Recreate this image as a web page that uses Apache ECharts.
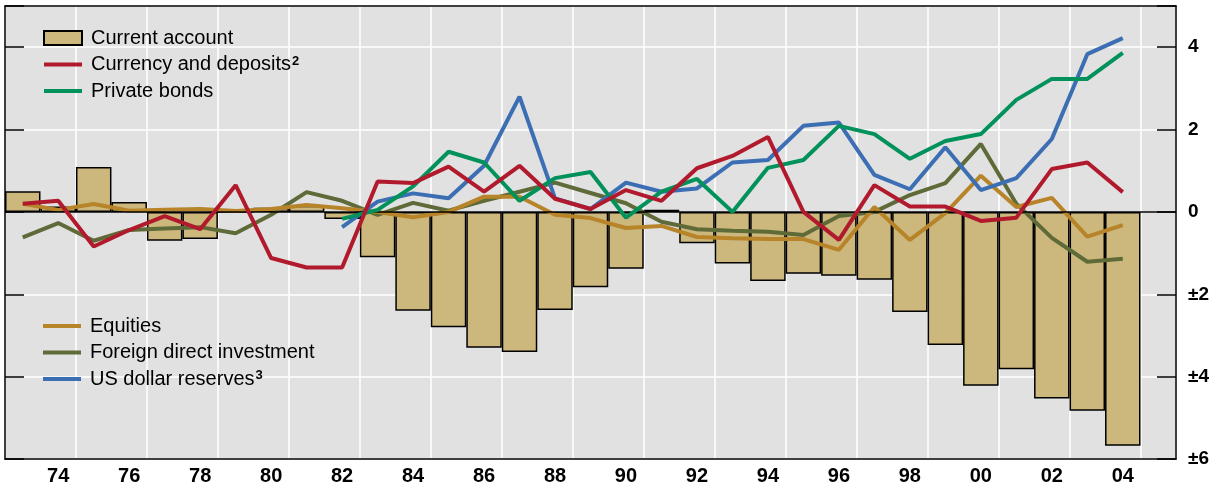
<!DOCTYPE html>
<html>
<head>
<meta charset="utf-8">
<script src="https://cdn.jsdelivr.net/npm/echarts@6/dist/echarts.min.js"></script>
<style>
  html, body { margin: 0; background: #fff; }
  #chart { width: 1216px; height: 489px; }
</style>
</head>
<body>
<div id="chart"></div>
<script>
// years 1973..2005 (2005 left empty, as in the original)
const years = ['73','74','75','76','77','78','79','80','81','82','83','84','85','86','87','88',
  '89','90','91','92','93','94','95','96','97','98','99','00','01','02','03','04','05'];

const currentAccount = [0.5, 0.13, 1.09, 0.24, -0.7, -0.66, 0.0, 0.1, 0.15, -0.17, -1.1, -2.4,
  -2.8, -3.3, -3.4, -2.38, -1.83, -1.38, 0.05, -0.76, -1.25, -1.68, -1.5, -1.55, -1.65, -2.43,
  -3.23, -4.22, -3.82, -4.53, -4.83, -5.68, null];

const currencyDeposits = [0.2, 0.27, -0.84, -0.44, -0.1, -0.42, 0.65, -1.12, -1.35, -1.35, 0.74,
  0.7, 1.1, 0.49, 1.12, 0.32, 0.07, 0.53, 0.27, 1.06, 1.36, 1.82, 0.0, -0.68, 0.65, 0.13, 0.13,
  -0.22, -0.14, 1.04, 1.2, 0.48, null];

const privateBonds = [null, null, null, null, null, null, null, null, null, -0.17, 0.05, 0.62,
  1.46, 1.2, 0.27, 0.82, 0.97, -0.14, 0.49, 0.8, 0.0, 1.07, 1.26, 2.09, 1.89, 1.29, 1.72, 1.89,
  2.72, 3.23, 3.23, 3.86, null];

const equities = [0.2, 0.05, 0.19, 0.03, 0.05, 0.07, 0.02, 0.07, 0.17, 0.09, 0.0, -0.13, 0.0,
  0.37, 0.37, -0.07, -0.15, -0.39, -0.34, -0.61, -0.64, -0.66, -0.66, -0.92, 0.12, -0.68, -0.03,
  0.88, 0.12, 0.34, -0.6, -0.32, null];

const fdi = [-0.62, -0.27, -0.7, -0.44, -0.4, -0.37, -0.52, -0.07, 0.48, 0.27, -0.07, 0.22, 0.03,
  0.27, 0.49, 0.71, 0.46, 0.21, -0.24, -0.42, -0.46, -0.48, -0.56, -0.1, 0.0, 0.41, 0.7, 1.65,
  0.2, -0.63, -1.21, -1.14, null];

const usdReserves = [null, null, null, null, null, null, null, null, null, -0.37, 0.25, 0.45,
  0.33, 1.12, 2.8, 0.33, 0.07, 0.71, 0.49, 0.57, 1.2, 1.26, 2.09, 2.17, 0.9, 0.55, 1.57, 0.53,
  0.82, 1.77, 3.83, 4.22, null];

const FONT = "'Liberation Sans', Arial, sans-serif";
const black = { color: '#000', width: 1.5 };
// flat bar used as legend key for the lines
const LINE_ICON = 'path://M0,0H38V4H0Z';

const chart = echarts.init(document.getElementById('chart'));

const lineSeries = (name, data, color, z) => ({
  name, type: 'line', data, symbol: 'none', z,
  lineStyle: { color, width: 4 },
  itemStyle: { color },
  connectNulls: false
});

const legendBase = {
  orient: 'vertical',
  left: 38,
  itemWidth: 38,
  itemHeight: 14,
  itemGap: 6.5,
  symbolKeepAspect: true,
  // footnote marks drawn as small bold superscripts
  formatter: (name) => name.replace('²', '{sup|2}').replace('³', '{sup|3}'),
  textStyle: {
    fontSize: 20, color: '#000', fontFamily: FONT, lineHeight: 20, padding: [0, 0, 0, 4],
    rich: {
      sup: { fontSize: 13, fontWeight: 'bold', fontFamily: FONT, color: '#000',
             lineHeight: 12, verticalAlign: 'top', padding: [0, 0, 0, 1] }
    }
  }
};

chart.setOption({
  animation: false,
  grid: {
    left: 5, right: 40, top: 6, bottom: 30,
    show: true, backgroundColor: '#e1e1e1', borderWidth: 0
  },
  legend: [
    Object.assign({}, legendBase, {
      top: 23,
      data: [
        { name: 'Current account', icon: 'rect' },
        { name: 'Currency and deposits²', icon: LINE_ICON },
        { name: 'Private bonds', icon: LINE_ICON }
      ]
    }),
    Object.assign({}, legendBase, {
      top: 311,
      data: [
        { name: 'Equities', icon: LINE_ICON },
        { name: 'Foreign direct investment', icon: LINE_ICON },
        { name: 'US dollar reserves³', icon: LINE_ICON }
      ]
    })
  ],
  xAxis: [
    {
      type: 'category', data: years, position: 'bottom',
      axisLine: { onZero: false, lineStyle: black },
      axisTick: { inside: true, length: 30, interval: (i) => i % 2 === 0, lineStyle: black },
      axisLabel: {
        interval: (i) => i % 2 === 1, fontSize: 20, fontWeight: 'bold',
        color: '#000', fontFamily: FONT, margin: 7
      },
      splitLine: { show: true, interval: (i) => i % 2 === 0, lineStyle: { color: '#fff', width: 1.5 } }
    },
    {
      type: 'category', data: years, position: 'bottom',
      axisLine: { show: false },
      axisTick: { inside: true, length: 15, interval: 0, lineStyle: black },
      axisLabel: { show: false },
      splitLine: { show: false }
    },
    {
      type: 'category', data: years, position: 'top', z: 5,
      axisLine: { onZero: false, lineStyle: black },
      axisTick: { show: false },
      axisLabel: { show: false },
      splitLine: { show: false }
    }
  ],
  yAxis: [
    {
      type: 'value', position: 'right', min: -6, max: 5, interval: 2,
      axisLine: { show: true, lineStyle: black },
      axisTick: { show: true, inside: true, length: 19, lineStyle: black },
      axisLabel: {
        fontSize: 19, fontWeight: 'bold', color: '#000', fontFamily: FONT, margin: 12,
        formatter: (v) => (v > 4 ? '' : v < 0 ? '±' + Math.abs(v) : String(v))
      },
      splitLine: { show: true, lineStyle: { color: '#fff', width: 1.5 } }
    },
    {
      type: 'value', position: 'left', min: -6, max: 5, interval: 2, z: 5,
      axisLine: { show: true, lineStyle: black },
      axisTick: { show: true, inside: true, length: 19, lineStyle: black },
      axisLabel: { show: false },
      splitLine: { show: false }
    }
  ],
  series: [
    {
      name: 'Current account', type: 'bar', data: currentAccount,
      barWidth: '100%', barCategoryGap: '0%', z: 1,
      itemStyle: { color: '#ccb77c', borderColor: '#000', borderWidth: 1.5 },
      markLine: {
        silent: true, symbol: 'none', label: { show: false },
        lineStyle: { color: '#000', width: 1.5, type: 'solid' },
        data: [{ yAxis: 0 }]
      }
    },
    lineSeries('Foreign direct investment', fdi, '#5e6b38', 2),
    lineSeries('Equities', equities, '#b7842a', 3),
    lineSeries('US dollar reserves³', usdReserves, '#3c6eb4', 4),
    lineSeries('Private bonds', privateBonds, '#00925a', 5),
    lineSeries('Currency and deposits²', currencyDeposits, '#b11a2d', 6)
  ]
});
</script>
</body>
</html>
